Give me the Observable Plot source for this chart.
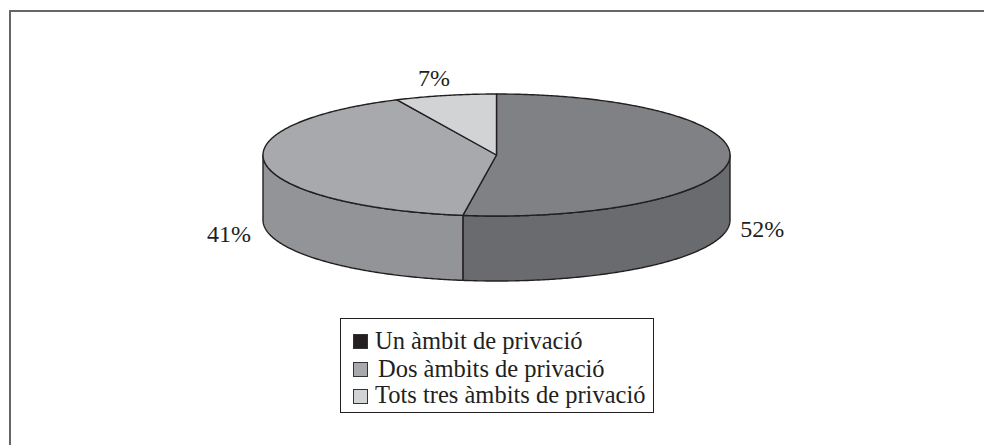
<!DOCTYPE html>
<html>
<head>
<meta charset="utf-8">
<script src="https://cdn.jsdelivr.net/npm/d3@7"></script>
<script src="https://cdn.jsdelivr.net/npm/@observablehq/plot@0.6"></script>
<style>
  html, body { margin: 0; padding: 0; background: #fff; overflow: hidden; }
  #page { position: relative; width: 984px; height: 445px; font-family: "Liberation Serif", serif; color: #231f20; }
  #frame { position: absolute; left: 9px; top: 10px; right: 0; bottom: 0; border-top: 2px solid #666; border-left: 2px solid #666; pointer-events: none; }
  #legend { position: absolute; left: 340px; top: 318px; width: 312px; height: 93px; border: 1.5px solid #231f20; background: #fff; box-sizing: content-box; }
  .row { position: absolute; white-space: nowrap; font-size: 24.5px; line-height: 27px; }
  .sw { position: absolute; width: 13px; height: 13px; border: 1px solid #333; }
  #chart svg { display: block; }
</style>
</head>
<body>
<div id="page">
  <div id="chart"></div>
  <div id="frame"></div>
  <div id="legend"></div>
</div>
<script>
// Data
const legendLabels = ["Un àmbit de privació", "Dos àmbits de privació", "Tots tres àmbits de privació"];
const legendColors = ["#231f20", "#a7a9ac", "#d1d3d4"];
const sliceLabels = ["52%", "41%", "7%"];
const sliceShares = [52.3, 40.7, 7.0];
const topColors = ["#808184", "#a7a9ac", "#d1d3d4"];
const sideColors = ["#6a6b6e", "#929497", "#b5b6b8"];

// Layout of the tilted disc
const cx = 496, cy = 154.5, rx = 233.5, ry = 61, depthPx = 65;
const depth = depthPx / ry;
const ink = "#231f20";

const TAU = 2 * Math.PI;
const pt = (a, drop = 0) => ({x: Math.sin(a), y: Math.cos(a) - drop});
const arc = (a0, a1, drop = 0) => {
  const n = Math.max(2, Math.ceil(Math.abs(a1 - a0) / 0.01));
  return d3.range(n + 1).map(i => pt(a0 + (a1 - a0) * i / n, drop));
};

let acc = 0;
const slices = sliceShares.map((s, i) => {
  const a0 = acc / 100 * TAU; acc += s; const a1 = acc / 100 * TAU;
  return {i, a0, a1, mid: (a0 + a1) / 2, label: sliceLabels[i]};
});

const marks = [];
// Side walls: only the part of each slice that faces the viewer
for (const s of slices) {
  const a0 = Math.max(s.a0, Math.PI / 2), a1 = Math.min(s.a1, 3 * Math.PI / 2);
  if (a1 <= a0) continue;
  const wall = [...arc(a0, a1), ...arc(a1, a0, depth)];
  marks.push(Plot.line(wall, {x: "x", y: "y", curve: "linear-closed", fill: sideColors[s.i], stroke: ink, strokeWidth: 1.4}));
}
// Top faces
for (const s of slices) {
  const face = [{x: 0, y: 0}, ...arc(s.a0, s.a1)];
  marks.push(Plot.line(face, {x: "x", y: "y", curve: "linear-closed", fill: topColors[s.i], stroke: ink, strokeWidth: 1.4}));
}
// Percent labels, pushed out along each slice's bisector
const k = 1.15;
const labelStyle = {
  x: s => k * Math.sin(s.mid),
  y: s => k * Math.cos(s.mid) - (Math.cos(s.mid) < 0 ? depth : 0),
  text: "label",
  fontSize: 24,
  fill: ink,
  fontFamily: "Liberation Serif",
  textAnchor: "middle",
  lineAnchor: "middle"
};
marks.push(Plot.text(slices.filter(s => Math.cos(s.mid) < 0), {...labelStyle, dx: -2, dy: 4}));
marks.push(Plot.text(slices.filter(s => Math.cos(s.mid) >= 0), {...labelStyle, dx: -4, dy: -8}));

const plot = Plot.plot({
  width: 984, height: 445,
  margin: 0,
  x: {domain: [-1, 1], range: [cx - rx, cx + rx], axis: null},
  y: {domain: [-1, 1], range: [cy + ry, cy - ry], axis: null},
  marks
});
plot.style.background = "transparent";
document.getElementById("chart").append(plot);

// Legend
const legend = document.getElementById("legend");
const swatchTops = [15, 43, 70], textTops = [8, 36, 62], textLefts = [34, 37, 34];
legendLabels.forEach((t, i) => {
  const sw = document.createElement("div");
  sw.className = "sw";
  sw.style.cssText = `left:12px;top:${swatchTops[i]}px;background:${legendColors[i]}`;
  const row = document.createElement("div");
  row.className = "row";
  row.style.cssText = `left:${textLefts[i]}px;top:${textTops[i]}px`;
  row.textContent = t;
  legend.append(sw, row);
});
</script>
</body>
</html>
